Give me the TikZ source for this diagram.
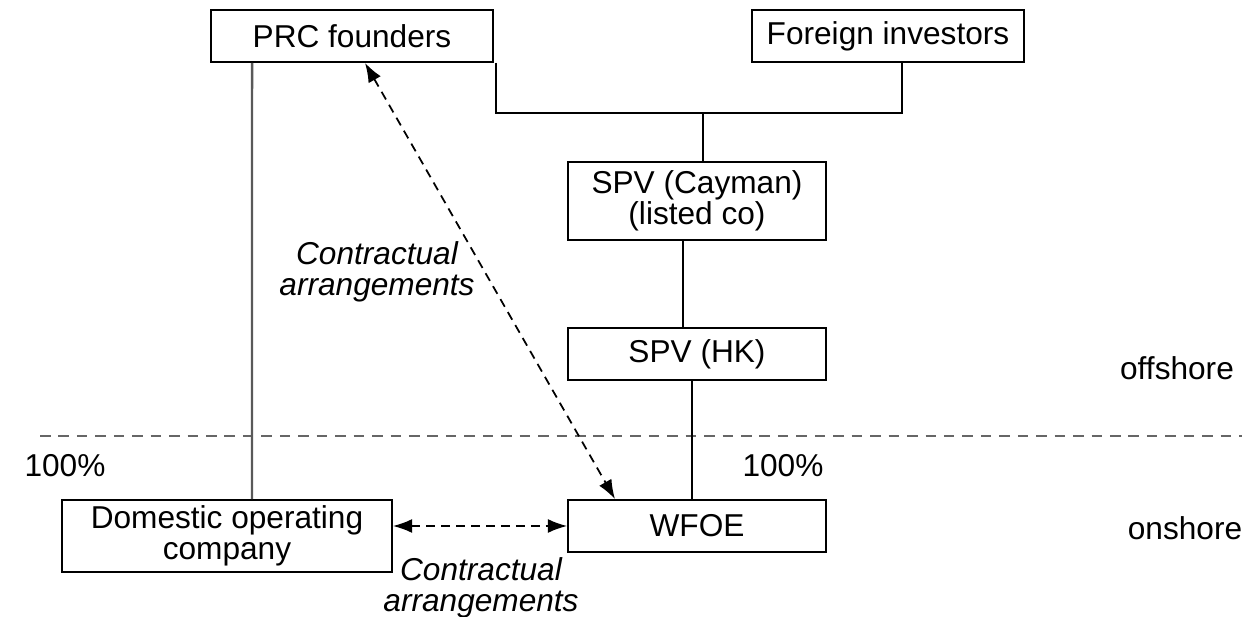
\documentclass[tikz,border=0pt]{standalone}
\usepackage{fontspec}
\setmainfont{Liberation Sans}
\usetikzlibrary{arrows.meta}

\begin{document}
\begin{tikzpicture}[x=0.02cm,y=-0.02cm,
  every node/.style={font=\fontsize{18}{18}\selectfont},
  entity/.style={draw,line width=1pt,align=center,inner sep=0pt},
  own/.style={line width=1pt},
  contract/.style={dashed,line width=1pt,dash pattern=on 5pt off 3.5pt,{Latex[length=11pt,width=8pt]}-{Latex[length=11pt,width=8pt]}},
  note/.style={align=center,font=\fontsize{18}{18}\selectfont\itshape}]
\useasboundingbox (0,0) rectangle (1242,617);

% parties
\node[entity,minimum width=282*0.02cm,minimum height=52*0.02cm] (prc) at (352,36) {PRC founders};
\node[entity,minimum width=272*0.02cm,minimum height=52*0.02cm] (foreign) at (888,36) {Foreign investors};
\node[entity,minimum width=258*0.02cm,minimum height=78*0.02cm] (cayman) at (697,201) {SPV (Cayman)\\(listed co)};
\node[entity,minimum width=258*0.02cm,minimum height=52*0.02cm] (hk) at (697,354) {SPV (HK)};
\node[entity,minimum width=258*0.02cm,minimum height=52*0.02cm] (wfoe) at (697,526) {WFOE};
\node[entity,minimum width=330*0.02cm,minimum height=72*0.02cm] (domestic) at (227,536) {Domestic operating\\company};

% offshore / onshore line
\coordinate (lineL) at (40,436);
\coordinate (lineR) at (1242,436);
\draw[gray!80!black,line width=1pt,dash pattern=on 6pt off 4.5pt] (lineL) -- (lineR);
\node (off) at (1177,368) {offshore};
\node (on) at (1185,528) {onshore};

% shareholding
\coordinate (j) at (703,113);
\draw[own] ([xshift=0.04cm]prc.south east) |- (j) -| ([xshift=0.28cm]foreign.south);
\draw[own] (j) -- (j |- cayman.north);
\draw[own] ([xshift=-0.28cm]cayman.south) -- ([xshift=-0.28cm]hk.north);
\draw[own] ([xshift=-0.1cm]hk.south) -- ([xshift=-0.1cm]wfoe.north);
\draw[gray!70!black,line width=1.4pt] ([xshift=-2cm]prc.south) -- ([xshift=0.5cm]domestic.north);

\node (pctL) at (65,466) {100\%};
\node (pctR) at (783,466) {100\%};

% contracts
\draw[contract] ([xshift=0.26cm]prc.south) -- ([xshift=-1.64cm]wfoe.north);
\draw[contract] (domestic.east |- wfoe.west) -- (wfoe.west);
\node[note] (c1) at (377,272) {Contractual\\arrangements};
\node[note] (c2) at (481,588) {Contractual\\arrangements};
\end{tikzpicture}
\end{document}
